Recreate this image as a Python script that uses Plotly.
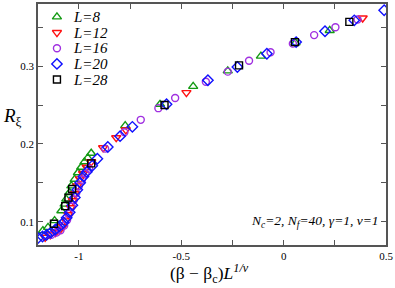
import plotly.graph_objects as go

# ---------------- data ----------------
L8_x = [-1.176, -1.151, -1.119, -1.086, -1.070, -1.062, -1.046, -1.037, -1.021, -1.005,
        -0.989, -0.973, -0.957, -0.940, -0.774, -0.604, -0.442, -0.273, -0.111, 0.058, 0.225]
L8_y = [0.0885, 0.0927, 0.1013, 0.114, 0.1226, 0.129, 0.1375, 0.146, 0.1545, 0.163,
        0.170, 0.177, 0.182, 0.188, 0.2235, 0.251, 0.274, 0.294, 0.313, 0.330, 0.346]

L12_x = [-1.165, -1.140, -1.115, -1.095, -1.078, -1.064, -1.052, -1.040, -1.030, -1.020,
         -1.008, -0.995, -0.980, -0.962, -0.940, -0.882, -0.818, -0.771, -0.475, 0.386]
L12_y = [0.080, 0.083, 0.086, 0.089, 0.094, 0.101, 0.109, 0.118, 0.127, 0.136,
         0.146, 0.155, 0.162, 0.170, 0.177, 0.195, 0.208, 0.218, 0.266, 0.362]

L16_x = [-1.135, -1.110, -1.090, -1.072, -1.058, -1.047, -1.036, -1.025, -1.013, -1.000,
         -0.985, -0.968, -0.950, -0.872, -0.778, -0.698, -0.612, -0.530, -0.380, -0.273,
         -0.169, -0.064, 0.045, 0.149, 0.253, 0.361]
L16_y = [0.083, 0.086, 0.089, 0.095, 0.102, 0.110, 0.119, 0.128, 0.137, 0.146,
         0.154, 0.162, 0.168, 0.194, 0.215, 0.231, 0.246, 0.259, 0.280, 0.293,
         0.307, 0.318, 0.329, 0.340, 0.350, 0.360]

L20_x = [-1.200, -1.178, -1.158, -1.137, -1.115, -1.094, -1.075, -1.060, -1.045, -1.032,
         -1.020, -1.008, -0.994, -0.978, -0.962, -0.935, -0.910, -0.859, -0.799, -0.739,
         -0.572, -0.370, -0.226, -0.082, 0.061, 0.202, 0.345, 0.491]
L20_y = [0.079, 0.081, 0.083, 0.086, 0.090, 0.094, 0.099, 0.105, 0.112, 0.121,
         0.131, 0.141, 0.150, 0.158, 0.164, 0.172, 0.181, 0.196, 0.210, 0.222,
         0.251, 0.282, 0.299, 0.316, 0.331, 0.345, 0.359, 0.372]

L28_x = [-1.122, -1.067, -1.051, -1.033, -0.940, -0.582, -0.218, 0.055, 0.321]
L28_y = [0.0974, 0.120, 0.131, 0.142, 0.175, 0.250, 0.301, 0.331, 0.357]

series_names = ["L=8", "L=12", "L=16", "L=20", "L=28"]
x_ticks = [-1, -0.5, 0, 0.5]
x_tick_text = ["-1", "-0.5", "0", "0.5"]
y_ticks = [0.1, 0.2, 0.3]
y_tick_text = ["0.1", "0.2", "0.3"]

# ---------------- layout / style constants ----------------
W, H = 395, 288
ML, MR, MT, MB = 38, 8, 2, 43
PW, PH = W - ML - MR, H - MT - MB

xs = [L8_x, L12_x, L16_x, L20_x, L28_x]
ys = [L8_y, L12_y, L16_y, L20_y, L28_y]
symbols = ["triangle-up-open", "triangle-down-open", "circle-open", "diamond-open", "square-open"]
colors = ["#139a13", "#ff1010", "#a030e0", "#1010ff", "#000000"]
sizes = [8, 8, 7, 8, 7]

SERIF = "Liberation Serif"

# legend placement in pixels (custom, compact legend)
LEG_MARK_X, LEG_TEXT_X, LEG_Y0, LEG_DY = 57, 71, 15, 15.8


def px_to_paper_x(px):
    return (px - ML) / PW


def px_to_paper_y(py):
    return (H - MB - py) / PH


fig = go.Figure()
for x, y, n, s, c, sz in zip(xs, ys, series_names, symbols, colors, sizes):
    fig.add_trace(go.Scatter(
        x=x, y=y, mode="markers", name=n, showlegend=False,
        marker=dict(symbol=s, size=sz, color=c, line=dict(color=c, width=1.4)),
    ))

# legend symbols on an overlay pixel axis
leg_ann = []
for i, (n, s, c, sz) in enumerate(zip(series_names, symbols, colors, sizes)):
    ly = LEG_Y0 + i * LEG_DY
    fig.add_trace(go.Scatter(
        x=[LEG_MARK_X], y=[ly], xaxis="x2", yaxis="y2", mode="markers",
        showlegend=False, hoverinfo="skip",
        marker=dict(symbol=s, size=sz, color=c, line=dict(color=c, width=1.4)),
    ))
    leg_ann.append(dict(text=n, xref="x2", yref="y2", x=LEG_TEXT_X, y=ly,
                        xanchor="left", yanchor="middle", showarrow=False,
                        font=dict(family=SERIF, size=15, color="black", style="italic")))

axis_common = dict(
    showline=True, linecolor="#555", linewidth=1.5, mirror="ticks",
    ticks="inside", ticklen=5, tickwidth=1, tickcolor="#555",
    showgrid=False, zeroline=False,
    tickfont=dict(family=SERIF, size=11, color="black"),
)

fig.update_xaxes(range=[-1.2, 0.5], tickvals=x_ticks, ticktext=x_tick_text,
                 minor=dict(dtick=0.25, tick0=0, ticks="inside", ticklen=5, tickcolor="#555", showgrid=False),
                 **axis_common)
fig.update_yaxes(range=[0.07, 0.38], tickvals=y_ticks, ticktext=y_tick_text,
                 minor=dict(dtick=0.05, tick0=0, ticks="inside", ticklen=5, tickcolor="#555", showgrid=False),
                 **axis_common)

fig.update_layout(
    width=W, height=H,
    margin=dict(l=ML, r=MR, t=MT, b=MB),
    plot_bgcolor="white", paper_bgcolor="white",
    showlegend=False,
    font=dict(family=SERIF),
    xaxis2=dict(overlaying="x", range=[ML, W - MR], visible=False, fixedrange=True),
    yaxis2=dict(overlaying="y", range=[H - MB, MT], visible=False, fixedrange=True),
    annotations=leg_ann + [
        dict(text="(β − β<sub>c</sub>)<i>L</i><sup><i>1/ν</i></sup>", xref="paper", yref="paper",
             x=px_to_paper_x(210), y=px_to_paper_y(288), xanchor="center", yanchor="bottom",
             showarrow=False, font=dict(family=SERIF, size=17.5, color="black")),
        dict(text="<i>R</i><sub>ξ</sub>", xref="paper", yref="paper",
             x=px_to_paper_x(1), y=px_to_paper_y(116), xanchor="left", yanchor="middle",
             showarrow=False, font=dict(family=SERIF, size=19, color="black")),
        dict(text="<i>N<sub>c</sub>=2, N<sub>f</sub>=40, γ=1, ν=1</i>", xref="paper", yref="paper",
             x=px_to_paper_x(382), y=px_to_paper_y(221), xanchor="right", yanchor="middle",
             showarrow=False, font=dict(family=SERIF, size=13.5, color="black")),
    ],
)

fig.write_html("out.html", config={"displayModeBar": False},
               post_script="document.body.style.margin='0';document.body.style.overflow='hidden';")
